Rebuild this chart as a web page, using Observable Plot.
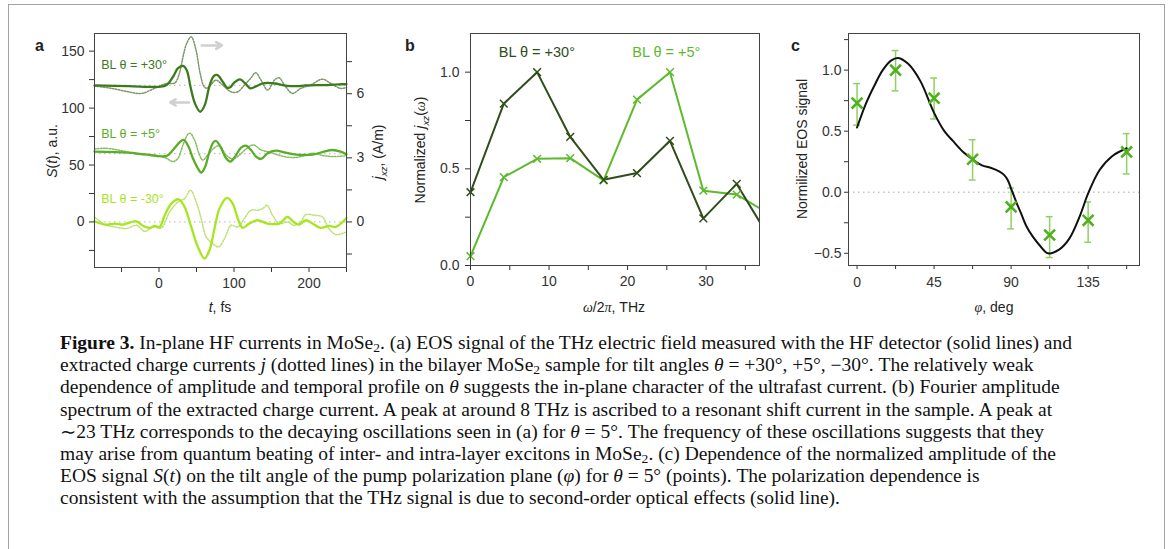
<!DOCTYPE html>
<html><head><meta charset="utf-8">
<script src="https://cdn.jsdelivr.net/npm/d3@7"></script>
<script src="https://cdn.jsdelivr.net/npm/@observablehq/plot@0.6"></script>
<style>
html,body{margin:0;padding:0;background:#fff;overflow:hidden;width:1168px;height:549px}
#fig{position:absolute;left:8px;top:4px;width:1157px;height:600px;border:1.5px solid #a3a3a3;border-bottom:none;box-sizing:border-box}
.pl{position:absolute;top:0}
.lab{position:absolute;font-family:"Liberation Sans",Arial,sans-serif;font-size:14px;color:#222;white-space:nowrap;line-height:1}
.ctr{transform:translate(-50%,-50%)}
.rot{transform:translate(-50%,-50%) rotate(-90deg)}
.let{font-weight:bold;font-size:16px}
#cap{position:absolute;left:60px;top:332px;font-family:"Liberation Serif","Times New Roman",serif;font-size:18px;line-height:22.2px;color:#111;white-space:nowrap;transform-origin:0 0}
#cap sub{font-size:70%;vertical-align:-0.25em;line-height:0}
</style></head>
<body>
<div id="fig"></div>
<div id="pa" class="pl" style="left:0px"></div>
<div id="pb" class="pl" style="left:390px"></div>
<div id="pc" class="pl" style="left:780px"></div>

<div class="lab let" style="left:35px;top:38px">a</div>
<div class="lab let" style="left:405px;top:38px">b</div>
<div class="lab let" style="left:791px;top:38px">c</div>

<div class="lab rot" style="left:52px;top:151px"><i>S</i>(<i>t</i>), a.u.</div>
<div class="lab rot" style="left:380px;top:152px"><i>j</i><sub style="font-size:70%"><i>xz</i></sub>, (A/m)</div>
<div class="lab ctr" style="left:220px;top:307px"><i>t</i>, fs</div>
<div class="lab rot" style="left:422px;top:150px">Normalized <i>j</i><sub style="font-size:70%"><i>xz</i></sub>(<i style="font-family:'Liberation Serif',serif">ω</i>)</div>
<div class="lab ctr" style="left:614px;top:307px"><i style="font-family:'Liberation Serif',serif">ω</i>/2<i style="font-family:'Liberation Serif',serif">π</i>, THz</div>
<div class="lab rot" style="left:802px;top:149px">Normilized EOS signal</div>
<div class="lab ctr" style="left:994px;top:307px"><i style="font-family:'Liberation Serif',serif">φ</i>, deg</div>

<div id="cap">
<div id="cap1"><b>Figure 3.</b> In-plane HF currents in MoSe<sub>2</sub>. (a) EOS signal of the THz electric field measured with the HF detector (solid lines) and</div>
<div>extracted charge currents <i>j</i> (dotted lines) in the bilayer MoSe<sub>2</sub> sample for tilt angles <i>θ</i> = +30°, +5°, −30°. The relatively weak</div>
<div>dependence of amplitude and temporal profile on <i>θ</i> suggests the in-plane character of the ultrafast current. (b) Fourier amplitude</div>
<div>spectrum of the extracted charge current. A peak at around 8 THz is ascribed to a resonant shift current in the sample. A peak at</div>
<div>∼23 THz corresponds to the decaying oscillations seen in (a) for <i>θ</i> = 5°. The frequency of these oscillations suggests that they</div>
<div>may arise from quantum beating of inter- and intra-layer excitons in MoSe<sub>2</sub>. (c) Dependence of the normalized amplitude of the</div>
<div>EOS signal <i>S</i>(<i>t</i>) on the tilt angle of the pump polarization plane (<i>φ</i>) for <i>θ</i> = 5° (points). The polarization dependence is</div>
<div>consistent with the assumption that the THz signal is due to second-order optical effects (solid line).</div>
</div>

<script>
// ---------- Panel a: time traces [t (fs), S (a.u.)] ----------
const s30Solid = [[-86,120],[-40,119.3],[0,118.7],[10,120.2],[20,129],[25,134.8],[32,137.1],[37,133.3],[42,118.7],[48,104],[55,96.8],[61,102.6],[67,118.7],[73,128.1],[78,129],[85,123.1],[91,117.8],[95,118.2],[100,122.2],[108,125.2],[115,121.6],[122,117.3],[130,119.3],[138,121.6],[145,122.2],[155,121.6],[165,120.2],[175,119.3],[185,119.3],[195,119.9],[210,120.2],[225,120.2],[240,120.8],[250,121.1]];
const s30Dot = [[-86,119.3],[-63,117.3],[-41,114.3],[-23,112.9],[-6,117.3],[10,121.6],[21,122],[27,130],[32,145],[37,157],[43,162.6],[49,152],[55,130],[60,119],[64,117.5],[70,121.1],[76,124.6],[85,120.2],[96,114.3],[105,114.3],[114,120.2],[122,126],[129,131],[136,124.6],[145,115.8],[154,124.6],[160,126.6],[169,118.7],[178,112.9],[189,117.3],[202,120.2],[218,125.4],[229,121.6],[242,117.3],[250,118.1]];
const s5Solid = [[-86,61.8],[-41,60.9],[-19,59.4],[10,58],[18.6,63.2],[27.5,70],[33,72],[39.4,66.1],[45.2,55.9],[51.8,47.1],[56.3,43.3],[61.6,48.6],[67.3,61.8],[72.6,70],[76.2,71.1],[81.9,66.1],[89.5,55.9],[95.2,53],[101.4,57.4],[109.4,65.3],[116,67],[122.7,63.2],[129.3,57.4],[136,55.3],[144.8,60.3],[155.9,62.6],[167,61.2],[180.2,59.4],[193.5,58.8],[206.8,59.4],[220,61.8],[231.1,63.2],[242.2,61.8],[250,59.4]];
const s5Dot = [[-86,64.1],[-72,64.7],[-50,62.6],[-27.8,59.4],[-5.7,58.8],[9.8,55.9],[18.6,53],[25.3,55.9],[31.9,67.6],[38.6,77],[41.7,77.8],[47.4,72],[54,58.8],[58.5,54.4],[65.1,58.8],[73.1,64.7],[80.6,67],[89.5,58.8],[98.3,55.3],[107.2,58.8],[118.2,65.3],[126.2,67.6],[136,63.2],[144.8,61.8],[155.9,59.4],[167,57.4],[180.2,56.5],[193.5,58.2],[204.6,60.3],[220,58.2],[233.3,57.4],[250,58.2]];
const m30Solid = [[-86,0.6],[-72.1,-2.3],[-58.8,-1.4],[-47.8,-2.3],[-38.9,-0.5],[-30.1,0.6],[-21.2,-3.5],[-12.4,-5.2],[-5.7,-3.5],[0.9,-4.4],[7.6,5.9],[16.4,16.1],[26.2,19.9],[34.1,13.2],[43,-4.4],[51.8,-21.9],[60.7,-32.1],[67.3,-24.8],[74,-5.8],[80.6,11.7],[90.8,21.1],[98.3,16.1],[105,3],[111.6,-5.2],[120.5,-1.4],[131.5,1.5],[144.8,-1.4],[160.3,-1.4],[171.4,4.4],[180.2,-0.5],[186.9,-2.3],[195.7,1.5],[204.6,-1.4],[215.6,-5.2],[226.7,-3.5],[235.6,-4.4],[250,3.5]];
const m30Dot = [[-86,4.4],[-72,-2.3],[-58.8,-4.4],[-43.3,-5.8],[-30.1,-2.9],[-19,-8.2],[-7.9,-4.4],[3.1,-5.2],[14.2,8.8],[25.3,17.6],[34.1,20.5],[42,27.8],[49.6,17.6],[56.3,3],[62.9,-13.1],[71.8,-19],[79.3,-21.9],[87.3,-14.6],[96.1,-2.9],[105,-4.4],[113.8,3],[122.7,10.3],[131.5,10.3],[138.2,11.7],[143.9,14.7],[151.4,5.9],[160.3,-1.4],[171.4,0],[180.2,-2.9],[189,0],[195.7,6.5],[206.8,5.9],[217.8,4.4],[226.7,-5.8],[235.6,-11.1],[250,-8.7]];
const baselinesA = [0, 60, 120];
const sTicks = [0, 50, 100, 150], sMinor = [-25, 25, 75, 125];
const tTicks = [0, 100, 200], tMinor = [-50, 50, 150, 250];
const jTicks = [0, 3, 6], jMinor = [-1.5, 1.5, 4.5, 7.5];
const J_TO_S = 18.77; // right-axis (A/m) to left-axis (a.u.) factor
const labelsA = [
  {text: "BL θ = +30°", t: -77, S: 137.5, c: "#3b7a1d"},
  {text: "BL θ = +5°",  t: -77, S: 77.5,  c: "#5aad28"},
  {text: "BL θ = -30°", t: -77, S: 20.5,  c: "#a5e61e"}
];
const arrowsA = [
  {t1: 57, t2: 84, S: 155, dash: "2,2"},
  {t1: 40, t2: 15, S: 105, dash: null}
];

// ---------- Panel b: spectra ----------
const freqB = [0, 4.24, 8.48, 12.7, 16.95, 21.2, 25.4, 29.65, 33.9, 38.1];
const jB30 = [0.379, 0.837, 1.0, 0.665, 0.443, 0.478, 0.645, 0.244, 0.422, 0.14];
const jB5  = [0.048, 0.457, 0.552, 0.555, 0.44, 0.858, 1.0, 0.387, 0.367, 0.265];
const labelsB = [
  {text: "BL θ = +30°", f: 3.6, v: 1.1, c: "#2e4d1b"},
  {text: "BL θ = +5°",  f: 20.6, v: 1.1, c: "#5cba2c"}
];

// ---------- Panel c: polarization dependence ----------
const phiC = [0, 22.5, 45, 67.5, 90, 112.5, 135, 157.5];
const eosC = [0.73, 1.0, 0.77, 0.27, -0.12, -0.35, -0.23, 0.33];
const errLoC = [0.55, 0.83, 0.60, 0.10, -0.30, -0.535, -0.41, 0.15];
const errHiC = [0.89, 1.16, 0.935, 0.43, 0.035, -0.20, -0.08, 0.48];
const fitC = [[0,0.53],[5,0.72],[10,0.87],[15,1.0],[20,1.08],[24,1.1],[30,1.05],[37,0.91],[45,0.65],[51,0.5],[56,0.42],[62,0.33],[67.5,0.27],[73,0.22],[78,0.2],[83,0.17],[86,0.14],[88,0.1],[90,0.03],[93,-0.08],[96,-0.18],[99,-0.28],[103,-0.37],[107,-0.44],[111.5,-0.5],[118,-0.47],[124,-0.38],[130,-0.2],[135,-0.01],[141.6,0.18],[149,0.295],[157.5,0.36]];

const FONT = "'Liberation Sans', Arial, sans-serif";
const style = {fontFamily: FONT, fontSize: "14px", color: "#333", overflow: "visible", background: "transparent"};
const X = d => d[0], Y = d => d[1];
const dotted = "1.5,1.5";

// ---- Panel a ----
const pa = Plot.plot({
  width: 400, height: 320, marginLeft: 94, marginRight: 54, marginTop: 33, marginBottom: 53,
  x: {domain: [-86, 250]}, y: {domain: [-40, 165.5]}, style,
  marks: [
    Plot.ruleY(baselinesA, {stroke: "#c4c4c4", strokeWidth: 1.3, strokeDasharray: "1.5,3.5"}),
    Plot.arrow(arrowsA, {x1: "t1", x2: "t2", y1: "S", y2: "S", stroke: "#d0d0d0", strokeWidth: 2.5, headLength: 6, strokeDasharray: d => d.dash}),
    Plot.line(s30Dot, {x: X, y: Y, stroke: "#7a9764", strokeWidth: 1.5, strokeDasharray: dotted, curve: "catmull-rom"}),
    Plot.line(s5Dot, {x: X, y: Y, stroke: "#86bc5e", strokeWidth: 1.5, strokeDasharray: dotted, curve: "catmull-rom"}),
    Plot.line(m30Dot, {x: X, y: Y, stroke: "#bce275", strokeWidth: 1.5, strokeDasharray: dotted, curve: "catmull-rom"}),
    Plot.line(s30Solid, {x: X, y: Y, stroke: "#3b7a1d", strokeWidth: 2.3, curve: "catmull-rom"}),
    Plot.line(s5Solid, {x: X, y: Y, stroke: "#5aad28", strokeWidth: 2.3, curve: "catmull-rom"}),
    Plot.line(m30Solid, {x: X, y: Y, stroke: "#a5e61e", strokeWidth: 2.3, curve: "catmull-rom"}),
    Plot.text(labelsA, {x: "t", y: "S", text: "text", fill: "c", textAnchor: "start", fontSize: 12.5}),
    Plot.axisY({ticks: sTicks, tickSize: 5, tickPadding: 5, label: null}),
    Plot.axisY({ticks: sMinor, tickSize: 5, tickFormat: () => "", label: null}),
    Plot.axisY({anchor: "right", ticks: jTicks.map(j => j * J_TO_S), tickFormat: v => String(Math.round(v / J_TO_S)), tickSize: 5, tickPadding: 5, label: null}),
    Plot.axisY({anchor: "right", ticks: jMinor.map(j => j * J_TO_S), tickFormat: () => "", tickSize: 5, label: null}),
    Plot.axisX({ticks: tTicks, tickSize: 5, tickPadding: 6, label: null}),
    Plot.axisX({ticks: tMinor, tickSize: 5, tickFormat: () => "", label: null}),
    Plot.frame({stroke: "#444"})
  ]
});
document.getElementById("pa").append(pa);

// ---- Panel b ----
const rowsB30 = freqB.map((f, i) => ({f, v: jB30[i]}));
const rowsB5 = freqB.map((f, i) => ({f, v: jB5[i]}));
const fMax = 36.8;
const pb = Plot.plot({
  width: 400, height: 320, marginLeft: 80, marginRight: 31, marginTop: 33, marginBottom: 55,
  x: {domain: [0, fMax]}, y: {domain: [0, 1.2]}, style,
  marks: [
    Plot.line(rowsB5, {x: "f", y: "v", stroke: "#5cba2c", strokeWidth: 2, clip: true}),
    Plot.line(rowsB30, {x: "f", y: "v", stroke: "#2e4d1b", strokeWidth: 2, clip: true}),
    Plot.dot(rowsB5.filter(d => d.f <= fMax), {x: "f", y: "v", symbol: "times", r: 3.6, stroke: "#5cba2c", strokeWidth: 1.5}),
    Plot.dot(rowsB30.filter(d => d.f <= fMax), {x: "f", y: "v", symbol: "times", r: 3.6, stroke: "#2e4d1b", strokeWidth: 1.5}),
    Plot.text(labelsB, {x: "f", y: "v", text: "text", fill: "c", textAnchor: "start", fontSize: 14.5}),
    Plot.axisY({ticks: [0, 0.5, 1.0], tickFormat: d3.format(".1f"), tickSize: 5, tickPadding: 6, label: null}),
    Plot.axisY({ticks: [0.25, 0.75], tickFormat: () => "", tickSize: 5, label: null}),
    Plot.axisX({ticks: [0, 10, 20, 30], tickSize: 5, tickPadding: 6, label: null}),
    Plot.axisX({ticks: [5, 15, 25, 35], tickSize: 5, tickFormat: () => "", label: null}),
    Plot.frame({stroke: "#444"})
  ]
});
document.getElementById("pb").append(pb);

// ---- Panel c ----
const rowsC = phiC.map((p, i) => ({p, v: eosC[i], lo: errLoC[i], hi: errHiC[i]}));
const pc = Plot.plot({
  width: 388, height: 320, marginLeft: 68, marginRight: 29, marginTop: 33, marginBottom: 55,
  x: {domain: [-5, 165]}, y: {domain: [-0.6, 1.3]}, style,
  marks: [
    Plot.ruleY([0], {stroke: "#c4c4c4", strokeWidth: 1.3, strokeDasharray: "1.5,3.5"}),
    Plot.ruleX(rowsC, {x: "p", y1: "lo", y2: "hi", stroke: "#8fd062", strokeWidth: 1.5}),
    Plot.ruleY(rowsC, {y: "lo", x1: d => d.p - 2, x2: d => d.p + 2, stroke: "#8fd062", strokeWidth: 1.5}),
    Plot.ruleY(rowsC, {y: "hi", x1: d => d.p - 2, x2: d => d.p + 2, stroke: "#8fd062", strokeWidth: 1.5}),
    Plot.line(fitC, {x: X, y: Y, stroke: "#111", strokeWidth: 2, curve: "catmull-rom"}),
    Plot.dot(rowsC, {x: "p", y: "v", symbol: "times", r: 5, stroke: "#52b020", strokeWidth: 2.6}),
    Plot.axisY({ticks: [-0.5, 0, 0.5, 1.0], tickFormat: d3.format(".1f"), tickSize: 4, tickPadding: 3, label: null}),
    Plot.axisY({ticks: [-0.25, 0.25, 0.75, 1.25], tickFormat: () => "", tickSize: 4, label: null}),
    Plot.axisX({ticks: [0, 45, 90, 135], tickSize: 4, tickPadding: 8, label: null}),
    Plot.axisX({ticks: [22.5, 67.5, 112.5, 157.5], tickSize: 4, tickFormat: () => "", label: null}),
    Plot.frame({stroke: "#444"})
  ]
});
document.getElementById("pc").append(pc);

// Caption: stretch horizontally so the first line spans the same width as in the figure
const cap = document.getElementById("cap");
const firstLine = document.getElementById("cap1");
const range = document.createRange();
range.selectNodeContents(firstLine);
const w = range.getBoundingClientRect().width;
const CAPTION_LINE1_WIDTH = 1012;
if (w > 0) cap.style.transform = `scaleX(${CAPTION_LINE1_WIDTH / w})`;
</script>
</body></html>
